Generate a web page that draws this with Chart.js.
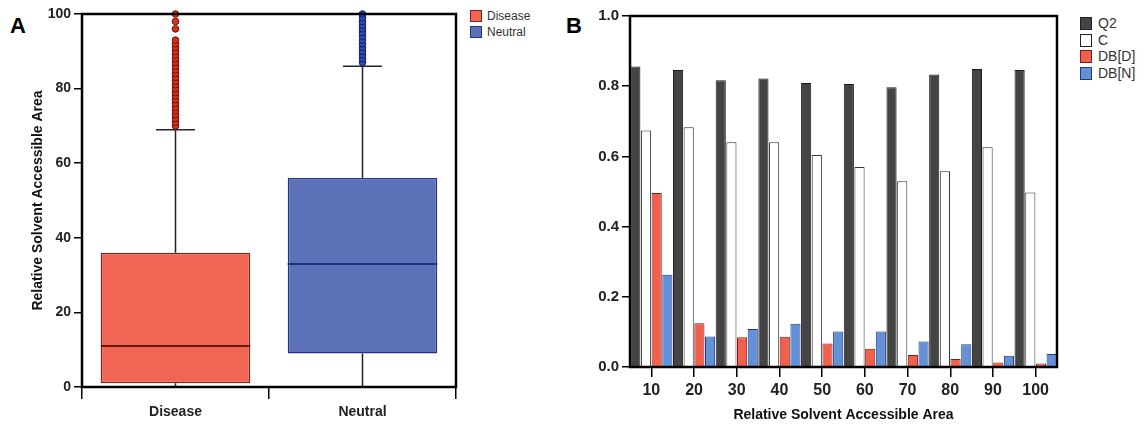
<!DOCTYPE html>
<html>
<head>
<meta charset="utf-8">
<script src="https://cdn.jsdelivr.net/npm/chart.js@4"></script>
<style>
  body { margin: 0; width: 1146px; height: 424px; background: #fff; position: relative; overflow: hidden;
         font-family: "Liberation Sans", Arial, sans-serif; }
  canvas { position: absolute; top: 0; }
  #chartA { left: 0; }
  #chartB { left: 560px; }
  .panel { position: absolute; font-weight: bold; font-size: 22px; color: #000; }
  .legend { position: absolute; font-size: 12px; color: #333; }
  .legend div { height: 16px; line-height: 16px; white-space: nowrap; }
  .legend span { display: inline-block; width: 10px; height: 10px; border: 1.5px solid #222;
                 vertical-align: -2px; margin-right: 5px; }
  #legendB { font-size: 14px; }
  #legendB div { height: 16.7px; line-height: 16.7px; }
  #legendB span { width: 10px; height: 11px; margin-right: 6px; }
</style>
</head>
<body>
<div class="panel" style="left:10px; top:13px;">A</div>
<div class="panel" style="left:566px; top:13px;">B</div>
<canvas id="chartA" width="470" height="424"></canvas>
<canvas id="chartB" width="510" height="424"></canvas>

<div class="legend" id="legendA" style="left:470px; top:8px;">
  <div><span style="background:#f06553; border-color:#7a2318"></span>Disease</div>
  <div><span style="background:#5c71b8; border-color:#22338a"></span>Neutral</div>
</div>
<div class="legend" id="legendB" style="left:1080px; top:15px;">
  <div><span style="background:#444"></span>Q2</div>
  <div><span style="background:#fff"></span>C</div>
  <div><span style="background:#f0604c; border-color:#7a2015"></span>DB[D]</div>
  <div><span style="background:#6490d8; border-color:#1f3a80"></span>DB[N]</div>
</div>

<script>
// Panel A data (box plot)
const groups = ['Disease', 'Neutral'];
const q1 = [1, 9];
const median = [11, 33];
const q3 = [36, 56];
const whiskerLow = [0, 0];
const whiskerHigh = [69, 86];
const outliersDisease = [70, 71, 72, 73, 74, 75, 76, 77, 78, 79, 80, 81, 82, 83, 84, 85, 86, 87, 88, 89, 90, 91, 92, 93, 96, 98, 100];
const outliersNeutral = [87, 88, 89, 90, 91, 92, 93, 94, 95, 96, 97, 98, 99, 100];

// Panel B data (grouped bars)
const rsaBins = ['10', '20', '30', '40', '50', '60', '70', '80', '90', '100'];
const q2Values = [0.856, 0.846, 0.817, 0.822, 0.809, 0.806, 0.797, 0.833, 0.849, 0.846];
const cValues = [0.674, 0.683, 0.640, 0.640, 0.604, 0.570, 0.529, 0.558, 0.626, 0.497];
const dbDValues = [0.496, 0.125, 0.085, 0.086, 0.067, 0.052, 0.034, 0.023, 0.013, 0.010];
const dbNValues = [0.263, 0.087, 0.108, 0.123, 0.101, 0.101, 0.073, 0.065, 0.032, 0.037];

const FONT = '"Liberation Sans", Arial, sans-serif';

// black frame round the plot area
const framePlugin = {
    id: 'frame',
    afterDraw(chart) {
        const { ctx, chartArea: a } = chart;
        ctx.save();
        ctx.strokeStyle = '#000';
        ctx.lineWidth = 2.5;
        ctx.strokeRect(a.left, a.top, a.right - a.left, a.bottom - a.top);
        ctx.restore();
    }
};

// whiskers and medians for the box plot
const boxPlugin = {
    id: 'boxParts',
    beforeDatasetsDraw(chart) {
        const { ctx, scales: { x, y } } = chart;
        const meta = chart.getDatasetMeta(0);
        ctx.save();
        ctx.strokeStyle = '#222';
        ctx.lineWidth = 1.5;
        groups.forEach((g, i) => {
            const cx = x.getPixelForValue(i);
            const capHalf = meta.data[i].width * 0.13;
            ctx.beginPath();
            ctx.moveTo(cx, y.getPixelForValue(q3[i]));
            ctx.lineTo(cx, y.getPixelForValue(whiskerHigh[i]));
            ctx.moveTo(cx - capHalf, y.getPixelForValue(whiskerHigh[i]));
            ctx.lineTo(cx + capHalf, y.getPixelForValue(whiskerHigh[i]));
            ctx.moveTo(cx, y.getPixelForValue(q1[i]));
            ctx.lineTo(cx, y.getPixelForValue(whiskerLow[i]));
            ctx.stroke();
        });
        ctx.restore();
    },
    afterDatasetsDraw(chart) {
        const { ctx, scales: { y } } = chart;
        const meta = chart.getDatasetMeta(0);
        const medColors = ['#6a1810', '#1e2e80'];
        ctx.save();
        ctx.lineWidth = 2;
        groups.forEach((g, i) => {
            const bar = meta.data[i];
            const py = y.getPixelForValue(median[i]);
            ctx.strokeStyle = medColors[i];
            ctx.beginPath();
            ctx.moveTo(bar.x - bar.width / 2, py);
            ctx.lineTo(bar.x + bar.width / 2, py);
            ctx.stroke();
        });
        ctx.restore();
    }
};

new Chart(document.getElementById('chartA'), {
    type: 'bar',
    data: {
        labels: groups,
        datasets: [{
            label: 'box',
            data: groups.map((g, i) => [q1[i], q3[i]]),
            backgroundColor: ['#f06553', '#5c71b8'],
            borderColor: ['#7a2318', '#22338a'],
            borderWidth: 1.5,
            borderSkipped: false,
            barPercentage: 0.8,
            categoryPercentage: 1,
            order: 2
        }, {
            type: 'scatter',
            label: 'Disease outliers',
            data: outliersDisease.map(v => ({ x: 'Disease', y: v })),
            backgroundColor: '#d8301e',
            borderColor: '#6a0d05',
            borderWidth: 1,
            pointRadius: 3.3,
            clip: false,
            order: 1
        }, {
            type: 'scatter',
            label: 'Neutral outliers',
            data: outliersNeutral.map(v => ({ x: 'Neutral', y: v })),
            backgroundColor: '#3048c0',
            borderColor: '#101c60',
            borderWidth: 1,
            pointRadius: 3.3,
            clip: false,
            order: 1
        }]
    },
    options: {
        responsive: false,
        animation: false,
        layout: { padding: { top: 14, right: 14, left: 30, bottom: 0 } },
        plugins: { legend: { display: false }, tooltip: { enabled: false } },
        scales: {
            x: {
                type: 'category',
                offset: true,
                grid: { display: true, offset: true, drawOnChartArea: false, drawTicks: true, tickLength: 12, color: '#000', lineWidth: 1.5 },
                border: { display: false },
                ticks: { color: '#222', font: { family: FONT, size: 14, weight: 'bold' }, padding: 5 },
                afterFit: s => { s.height = 37; }
            },
            y: {
                min: 0,
                max: 100,
                ticks: { stepSize: 20, color: '#222', font: { family: FONT, size: 14, weight: 'bold' }, padding: 3 },
                grid: { display: true, drawOnChartArea: false, drawTicks: true, tickLength: 8, color: '#000', lineWidth: 1.5 },
                border: { display: false },
                title: { display: true, text: 'Relative Solvent Accessible Area', color: '#111', font: { family: FONT, size: 14, weight: 'bold' }, padding: { top: 0, bottom: 4 } },
                afterFit: s => { s.width = 52; }
            }
        }
    },
    plugins: [boxPlugin, framePlugin]
});

new Chart(document.getElementById('chartB'), {
    type: 'bar',
    data: {
        labels: rsaBins,
        datasets: [
            { label: 'Q2', data: q2Values, backgroundColor: '#444444', borderColor: '#1a1a1a' },
            { label: 'C', data: cValues, backgroundColor: '#ffffff', borderColor: '#333333' },
            { label: 'DB[D]', data: dbDValues, backgroundColor: '#f0604c', borderColor: '#7a2015' },
            { label: 'DB[N]', data: dbNValues, backgroundColor: '#6490d8', borderColor: '#1f3a80' }
        ].map(d => Object.assign(d, { borderWidth: 1, barPercentage: 0.95, categoryPercentage: 1 }))
    },
    options: {
        responsive: false,
        animation: false,
        layout: { padding: { top: 16, right: 13, left: 0, bottom: 0 } },
        plugins: { legend: { display: false }, tooltip: { enabled: false } },
        scales: {
            x: {
                grid: { display: true, offset: false, drawOnChartArea: false, drawTicks: true, tickLength: 10, color: '#000', lineWidth: 1.5 },
                border: { display: false },
                ticks: { color: '#222', font: { family: FONT, size: 16, weight: 'bold' }, padding: 4 },
                title: { display: true, text: 'Relative Solvent Accessible Area', color: '#111', font: { family: FONT, size: 14, weight: 'bold' }, padding: { top: 3, bottom: 0 } },
                afterFit: s => { s.height = 57; }
            },
            y: {
                min: 0,
                max: 1,
                ticks: { stepSize: 0.2, color: '#222', font: { family: FONT, size: 15, weight: 'bold' }, padding: 3, callback: v => v.toFixed(1) },
                grid: { display: true, drawOnChartArea: false, drawTicks: true, tickLength: 8, color: '#000', lineWidth: 1.5 },
                border: { display: false },
                afterFit: s => { s.width = 70; }
            }
        }
    },
    plugins: [framePlugin]
});
</script>
</body>
</html>
